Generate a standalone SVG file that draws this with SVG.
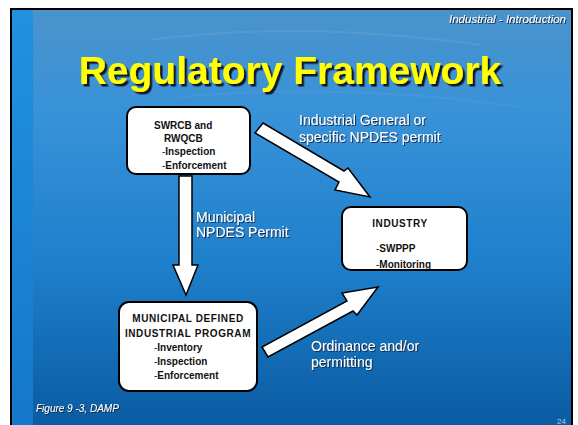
<svg xmlns="http://www.w3.org/2000/svg" width="578" height="425" viewBox="0 0 578 425">
<defs>
<linearGradient id="bg" x1="0" y1="0" x2="0" y2="1">
<stop offset="0" stop-color="#4a93cc"/>
<stop offset="0.25" stop-color="#3892d8"/>
<stop offset="0.6" stop-color="#1f80cc"/>
<stop offset="1" stop-color="#0a5ba2"/>
</linearGradient>
<linearGradient id="strip" x1="0" y1="0" x2="0" y2="1">
<stop offset="0" stop-color="#2291e0"/>
<stop offset="1" stop-color="#1478cc"/>
</linearGradient>
<filter id="ds" x="-10%" y="-20%" width="120%" height="150%">
<feDropShadow dx="1" dy="1" stdDeviation="0.3" flood-color="#14233a" flood-opacity="0.9"/>
</filter>
<filter id="ds2" x="-10%" y="-20%" width="120%" height="150%">
<feDropShadow dx="2.5" dy="2.5" stdDeviation="0.4" flood-color="#15152a" flood-opacity="1"/>
</filter>
<style>
.box{fill:#fff;stroke:#000;stroke-width:2}
.arr{fill:#fff;stroke:#000;stroke-width:1.5;stroke-linejoin:miter}
.bt{font-family:"Liberation Sans",Arial,sans-serif;font-size:10px;font-weight:bold;fill:#111}
.cap{letter-spacing:0.6px}
.lbl{font-family:"Liberation Sans",Arial,sans-serif;font-size:14px;fill:#fff;filter:url(#ds)}
.it{font-family:"Liberation Sans",Arial,sans-serif;font-style:italic;fill:#fff;filter:url(#ds)}
</style>
</defs>
<rect x="0" y="0" width="578" height="425" fill="#fff"/>
<rect x="11" y="9" width="561" height="418" fill="url(#bg)" stroke="#000" stroke-width="2"/>
<rect x="12" y="10" width="21" height="415" fill="url(#strip)"/>
<path d="M150 40 Q300 20 480 45" fill="none" stroke="#6aa8d8" stroke-width="2" opacity="0.4"/>
<path d="M180 97 Q350 82 520 107" fill="none" stroke="#5ea0d6" stroke-width="2" opacity="0.3"/>

<text class="it" x="566" y="23" font-size="11.5" text-anchor="end">Industrial - Introduction</text>

<g id="title">
<text x="290" y="84" font-family="'Liberation Sans',Arial,sans-serif" font-weight="bold" font-size="39" text-anchor="middle" fill="#ffff00" filter="url(#ds2)">Regulatory Framework</text>
</g>

<g id="connectors">
<polygon class="arr" points="255,133 263,123 344,171 348,168 370,197 335,190 339,182"/>
<polygon class="arr" points="179,176 192,176 192,265 198,265 186,295 173,265 179,265"/>
<polygon class="arr" points="262,347 268,357 353,311 357,315 378,287 342,293 347,301"/>
</g>

<g id="swrcb">
<rect class="box" x="127" y="107" width="123" height="67" rx="9"/>
<text class="bt" x="154" y="129">SWRCB and</text>
<text class="bt" x="164" y="142">RWQCB</text>
<text class="bt" x="162" y="155"><tspan font-weight="normal">-</tspan>Inspection</text>
<text class="bt" x="162" y="169"><tspan font-weight="normal">-</tspan>Enforcement</text>
</g>

<g id="industry">
<rect class="box" x="342" y="207" width="125" height="63" rx="9"/>
<text class="bt cap" x="400" y="227" text-anchor="middle">INDUSTRY</text>
<text class="bt" x="376" y="252"><tspan font-weight="normal">-</tspan>SWPPP</text>
<text class="bt" x="376" y="268"><tspan font-weight="normal">-</tspan>Monitoring</text>
</g>

<g id="municipal">
<rect class="box" x="119" y="302" width="138" height="89" rx="10"/>
<text class="bt cap" x="188" y="322" text-anchor="middle">MUNICIPAL DEFINED</text>
<text class="bt cap" x="188" y="337" text-anchor="middle">INDUSTRIAL PROGRAM</text>
<text class="bt" x="154" y="351"><tspan font-weight="normal">-</tspan>Inventory</text>
<text class="bt" x="154" y="365"><tspan font-weight="normal">-</tspan>Inspection</text>
<text class="bt" x="154" y="379"><tspan font-weight="normal">-</tspan>Enforcement</text>
</g>

<g id="labels">
<text class="lbl" x="299" y="125">Industrial General or</text>
<text class="lbl" x="299" y="142">specific NPDES permit</text>
<text class="lbl" x="196" y="222">Municipal</text>
<text class="lbl" x="196" y="237">NPDES Permit</text>
<text class="lbl" x="311" y="351" font-size="13.5">Ordinance and/or</text>
<text class="lbl" x="311" y="367" font-size="13.5">permitting</text>
</g>

<text class="it" x="36" y="412" font-size="10">Figure 9 -3, DAMP</text>
<text x="566" y="424" font-family="'Liberation Sans',Arial,sans-serif" font-size="8" text-anchor="end" fill="#b8c8d8">24</text>
</svg>
